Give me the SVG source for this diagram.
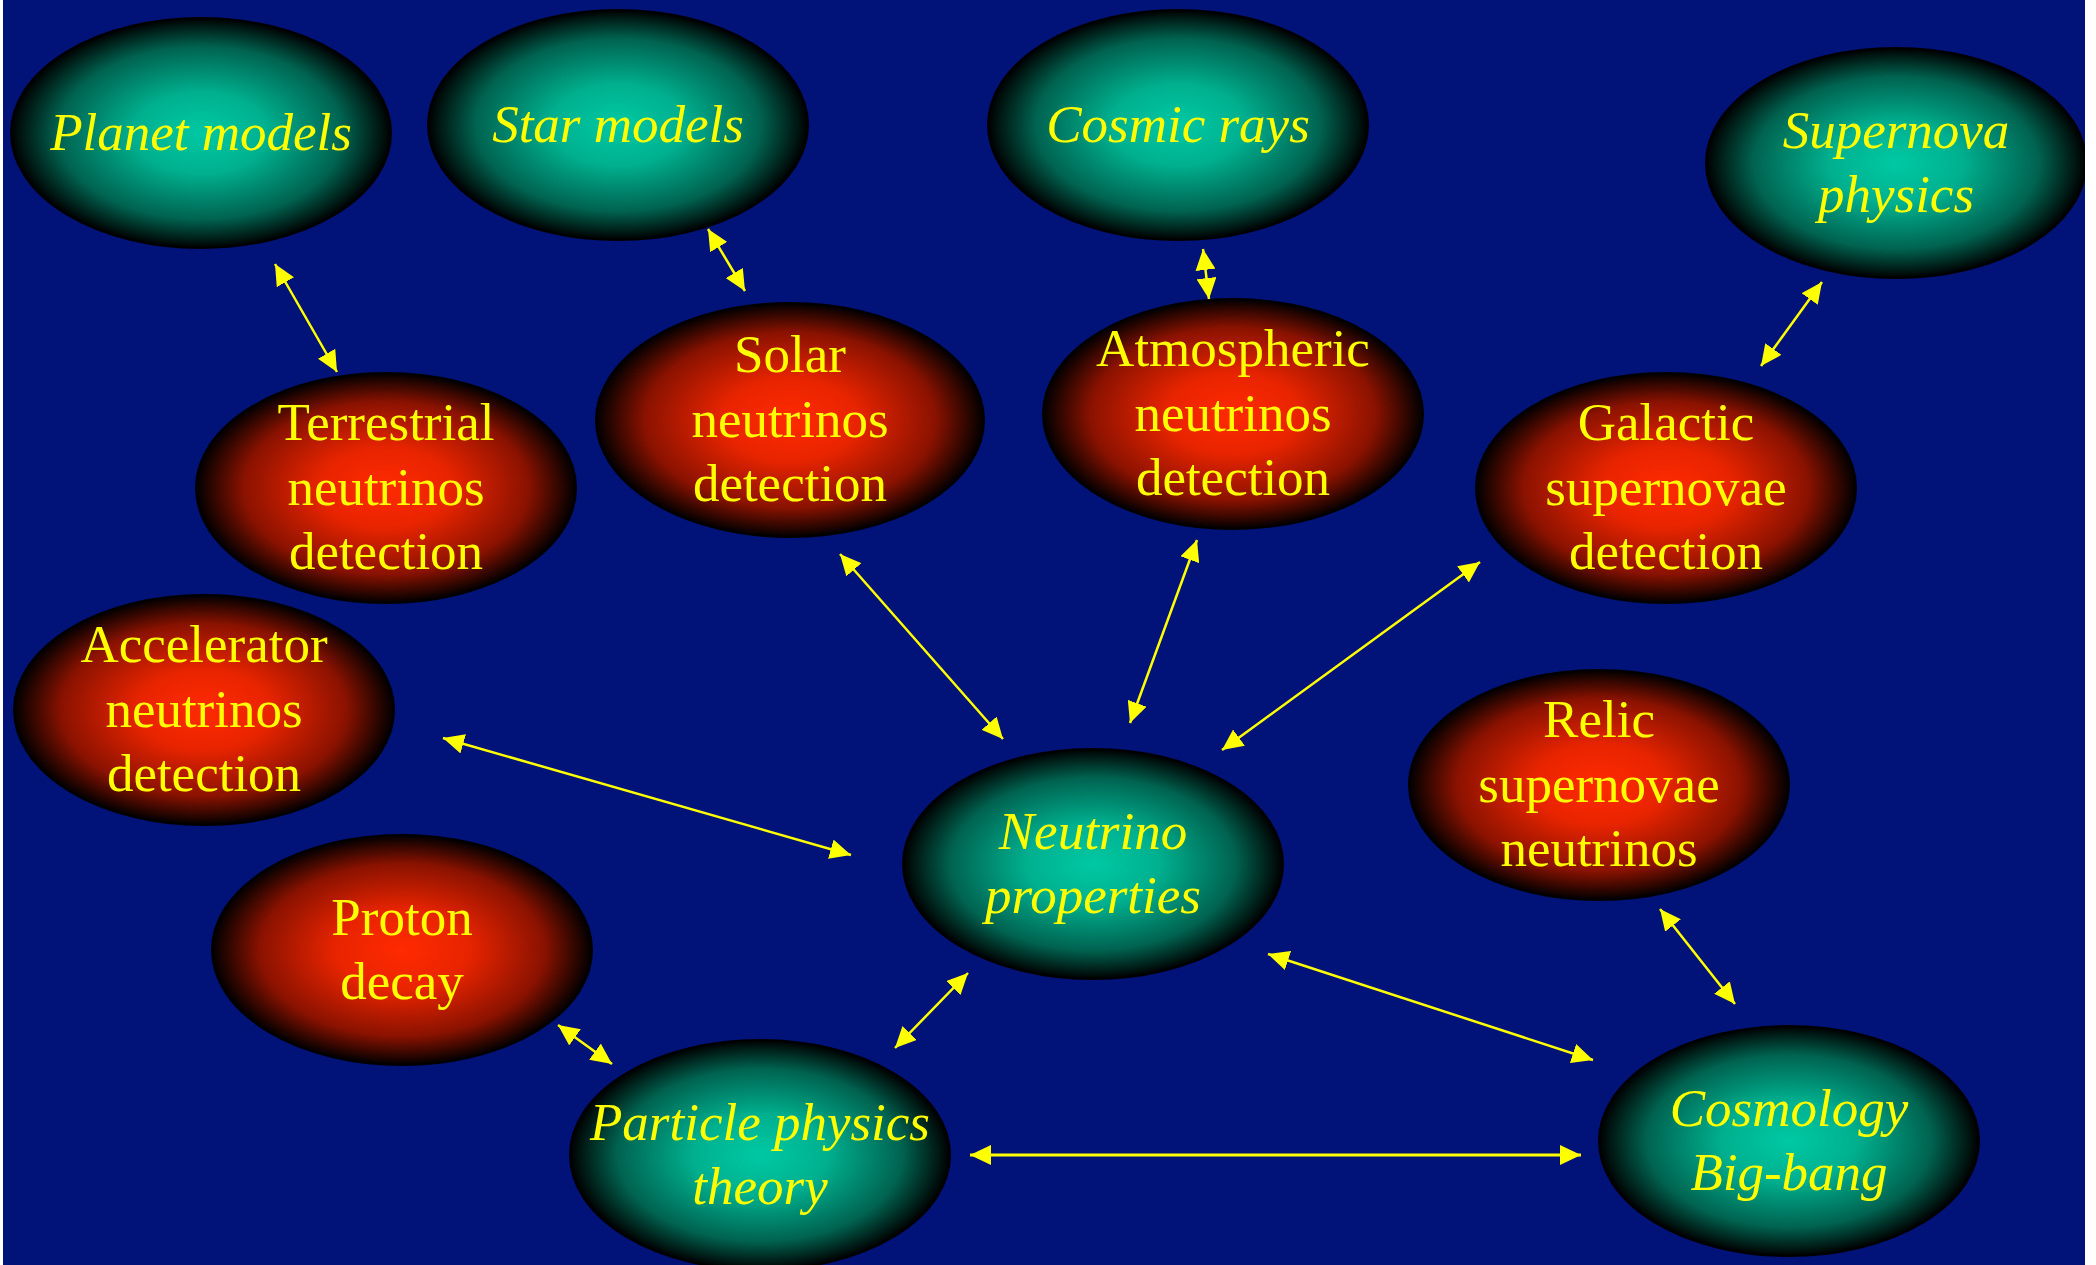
<svg xmlns="http://www.w3.org/2000/svg" width="2096" height="1265" viewBox="0 0 2096 1265">
<defs>
<radialGradient id="teal" cx="0.5" cy="0.5" r="0.5">
<stop offset="0" stop-color="#00c9a3"/>
<stop offset="0.35" stop-color="#00b08f"/>
<stop offset="0.75" stop-color="#006350"/>
<stop offset="1" stop-color="#000000"/>
</radialGradient>
<radialGradient id="red" cx="0.5" cy="0.5" r="0.5">
<stop offset="0" stop-color="#ff2a00"/>
<stop offset="0.35" stop-color="#e82400"/>
<stop offset="0.75" stop-color="#8a1200"/>
<stop offset="1" stop-color="#000000"/>
</radialGradient>
<clipPath id="page"><rect x="3" y="0" width="2082" height="1265"/></clipPath>
<marker id="ah" viewBox="0 0 21 20" refX="21" refY="10" markerWidth="21" markerHeight="20" markerUnits="userSpaceOnUse" orient="auto-start-reverse">
<path d="M0,0 L21,10 L0,20 z" fill="#ffff00"/>
</marker>
<style>
.t{fill:url(#teal);stroke:#000;stroke-width:2}
.r{fill:url(#red);stroke:#000;stroke-width:2}
text{font-family:"Liberation Serif","Times New Roman",serif;font-size:53px;fill:#ffff00;text-anchor:middle}
.i{font-style:italic}
.c line{stroke:#ffff00;stroke-width:2.5;marker-start:url(#ah);marker-end:url(#ah)}
</style>
</defs>
<rect width="2096" height="1265" fill="#ffffff"/>
<g clip-path="url(#page)">
<rect x="3" y="0" width="2082" height="1265" fill="#011278"/>
<g id="planet-models"><ellipse class="t" cx="201" cy="133" rx="190" ry="115"/><text class="i" x="201" y="150">Planet models</text></g>
<g id="star-models"><ellipse class="t" cx="618" cy="125" rx="190" ry="115"/><text class="i" x="618" y="142">Star models</text></g>
<g id="cosmic-rays"><ellipse class="t" cx="1178" cy="125" rx="190" ry="115"/><text class="i" x="1178" y="142">Cosmic rays</text></g>
<g id="supernova-physics"><ellipse class="t" cx="1896" cy="163" rx="190" ry="115"/><text class="i" x="1896" y="148">Supernova</text><text class="i" x="1896" y="212">physics</text></g>
<g id="terrestrial"><ellipse class="r" cx="386" cy="488" rx="190" ry="115"/><text x="386" y="440">Terrestrial</text><text x="386" y="505">neutrinos</text><text x="386" y="569">detection</text></g>
<g id="solar"><ellipse class="r" cx="790" cy="420" rx="194" ry="117"/><text x="790" y="372">Solar</text><text x="790" y="437">neutrinos</text><text x="790" y="501">detection</text></g>
<g id="atmospheric"><ellipse class="r" cx="1233" cy="414" rx="190" ry="115"/><text x="1233" y="366">Atmospheric</text><text x="1233" y="431">neutrinos</text><text x="1233" y="495">detection</text></g>
<g id="galactic"><ellipse class="r" cx="1666" cy="488" rx="190" ry="115"/><text x="1666" y="440">Galactic</text><text x="1666" y="505">supernovae</text><text x="1666" y="569">detection</text></g>
<g id="accelerator"><ellipse class="r" cx="204" cy="710" rx="190" ry="115"/><text x="204" y="662">Accelerator</text><text x="204" y="727">neutrinos</text><text x="204" y="791">detection</text></g>
<g id="proton-decay"><ellipse class="r" cx="402" cy="950" rx="190" ry="115"/><text x="402" y="935">Proton</text><text x="402" y="999">decay</text></g>
<g id="relic"><ellipse class="r" cx="1599" cy="785" rx="190" ry="115"/><text x="1599" y="737">Relic</text><text x="1599" y="802">supernovae</text><text x="1599" y="866">neutrinos</text></g>
<g id="neutrino-properties"><ellipse class="t" cx="1093" cy="864" rx="190" ry="115"/><text class="i" x="1093" y="849">Neutrino</text><text class="i" x="1093" y="913">properties</text></g>
<g id="particle-physics"><ellipse class="t" cx="760" cy="1155" rx="190" ry="115"/><text class="i" x="760" y="1140">Particle physics</text><text class="i" x="760" y="1204">theory</text></g>
<g id="cosmology"><ellipse class="t" cx="1789" cy="1141" rx="190" ry="115"/><text class="i" x="1789" y="1126">Cosmology</text><text class="i" x="1789" y="1190">Big-bang</text></g>
<g id="connectors" class="c">
<line x1="275" y1="264" x2="337" y2="372"/>
<line x1="708" y1="229" x2="745" y2="291"/>
<line x1="1203" y1="249" x2="1209" y2="299"/>
<line x1="1822" y1="282" x2="1761" y2="366"/>
<line x1="840" y1="554" x2="1003" y2="739"/>
<line x1="1197" y1="540" x2="1130" y2="723"/>
<line x1="1480" y1="562" x2="1222" y2="750"/>
<line x1="443" y1="738" x2="851" y2="855"/>
<line x1="558" y1="1025" x2="612" y2="1064"/>
<line x1="895" y1="1048" x2="968" y2="973"/>
<line x1="1268" y1="954" x2="1593" y2="1060"/>
<line x1="1660" y1="909" x2="1735" y2="1004"/>
<line x1="970" y1="1155" x2="1581" y2="1155" style="stroke-width:3"/>
</g>
</g>
</svg>
